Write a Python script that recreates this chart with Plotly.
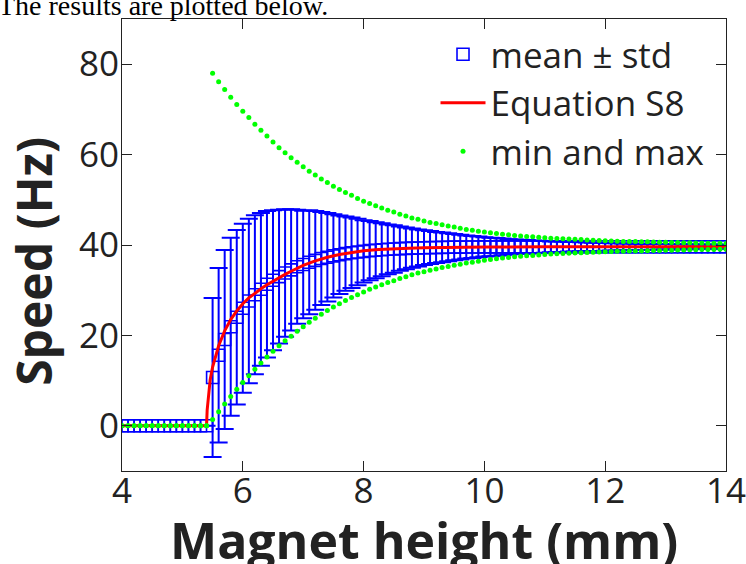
import plotly.graph_objects as go

# Magnet height (mm)
height = [4.0, 4.1, 4.2, 4.3, 4.4, 4.5, 4.6, 4.7, 4.8, 4.9,
          5.0, 5.1, 5.2, 5.3, 5.4, 5.5, 5.6, 5.7, 5.8, 5.9,
          6.0, 6.1, 6.2, 6.3, 6.4, 6.5, 6.6, 6.7, 6.8, 6.9,
          7.0, 7.1, 7.2, 7.3, 7.4, 7.5, 7.6, 7.7, 7.8, 7.9,
          8.0, 8.1, 8.2, 8.3, 8.4, 8.5, 8.6, 8.7, 8.8, 8.9,
          9.0, 9.1, 9.2, 9.3, 9.4, 9.5, 9.6, 9.7, 9.8, 9.9,
          10.0, 10.1, 10.2, 10.3, 10.4, 10.5, 10.6, 10.7, 10.8, 10.9,
          11.0, 11.1, 11.2, 11.3, 11.4, 11.5, 11.6, 11.7, 11.8, 11.9,
          12.0, 12.1, 12.2, 12.3, 12.4, 12.5, 12.6, 12.7, 12.8, 12.9,
          13.0, 13.1, 13.2, 13.3, 13.4, 13.5, 13.6, 13.7, 13.8, 13.9,
          14.0]

speed_mean = [0, 0, 0, 0, 0, 0, 0, 0, 0, 0,
              0, 0, 0, 0, 0, 10.7, 15.6, 19.1, 21.9, 24.0,
              26.0, 27.6, 29.0, 30.2, 31.3, 32.2, 33.0, 33.8, 34.5, 35.2,
              35.7, 36.2, 36.6, 37.0, 37.3, 37.6, 37.85, 38.1, 38.3, 38.45,
              38.6, 38.75, 38.85, 38.95, 39.05, 39.1, 39.2, 39.25, 39.3, 39.35,
              39.4, 39.42, 39.45, 39.47, 39.5, 39.52, 39.54, 39.55, 39.56, 39.57,
              39.58, 39.58, 39.58, 39.58, 39.59, 39.59, 39.59, 39.59, 39.6, 39.6,
              39.6, 39.6, 39.6, 39.6, 39.6, 39.6, 39.6, 39.6, 39.6, 39.6,
              39.6, 39.6, 39.6, 39.6, 39.6, 39.6, 39.6, 39.6, 39.6, 39.6,
              39.6, 39.6, 39.6, 39.6, 39.6, 39.6, 39.6, 39.6, 39.6, 39.6,
              39.6]

speed_std = [0, 0, 0, 0, 0, 0, 0, 0, 0, 0,
             0, 0, 0, 0, 0, 17.6, 19.3, 19.8, 19.7, 19.3,
             18.7, 18.2, 17.6, 16.9, 16.2, 15.5, 14.8, 14.1, 13.4, 12.6,
             11.9, 11.5, 10.9, 10.3, 9.8, 9.2, 8.7, 8.2, 7.8, 7.35,
             6.9, 6.55, 6.2, 5.85, 5.5, 5.25, 4.9, 4.6, 4.35, 4.1,
             3.85, 3.65, 3.45, 3.3, 3.1, 2.9, 2.75, 2.55, 2.45, 2.3,
             2.15, 2.05, 1.95, 1.85, 1.7, 1.6, 1.55, 1.5, 1.4, 1.35,
             1.3, 1.2, 1.15, 1.15, 1.05, 1.05, 1.0, 0.95, 0.9, 0.9,
             0.85, 0.8, 0.8, 0.75, 0.75, 0.7, 0.7, 0.7, 0.65, 0.6,
             0.6, 0.6, 0.55, 0.55, 0.55, 0.5, 0.5, 0.5, 0.5, 0.45,
             0.45]

speed_max = [0, 0, 0, 0, 0, 0, 0, 0, 0, 0,
             0, 0, 0, 0, 0, 78.0, 76.1, 74.4, 72.7, 71.1,
             69.6, 68.2, 66.7, 65.4, 64.1, 62.8, 61.5, 60.4, 59.3, 58.3,
             57.3, 56.3, 55.5, 54.6, 53.8, 53.0, 52.3, 51.6, 51.0, 50.3,
             49.7, 49.2, 48.7, 48.2, 47.7, 47.3, 46.8, 46.4, 46.0, 45.7,
             45.3, 45.0, 44.75, 44.5, 44.2, 44.0, 43.7, 43.45, 43.25, 43.05,
             42.85, 42.7, 42.55, 42.4, 42.25, 42.1, 42.0, 41.9, 41.8, 41.7,
             41.6, 41.5, 41.45, 41.4, 41.3, 41.25, 41.2, 41.1, 41.05, 41.0,
             40.95, 40.9, 40.85, 40.8, 40.8, 40.75, 40.7, 40.7, 40.65, 40.6,
             40.6, 40.55, 40.55, 40.5, 40.5, 40.45, 40.45, 40.4, 40.4, 40.4,
             40.35]

speed_min = [0, 0, 0, 0, 0, 0, 0, 0, 0, 0,
             0, 0, 0, 0, 0, 1.4, 3.1, 4.8, 6.5, 8.1,
             9.6, 11.1, 12.5, 13.9, 15.2, 16.5, 17.7, 18.8, 19.8, 20.9,
             21.9, 22.9, 23.8, 24.7, 25.5, 26.3, 27.0, 27.7, 28.4, 29.0,
             29.6, 30.2, 30.7, 31.2, 31.7, 32.1, 32.6, 33.0, 33.4, 33.8,
             34.1, 34.4, 34.7, 35.0, 35.25, 35.5, 35.75, 36.0, 36.2, 36.4,
             36.6, 36.8, 36.95, 37.1, 37.25, 37.4, 37.5, 37.6, 37.7, 37.8,
             37.9, 38.0, 38.05, 38.1, 38.2, 38.25, 38.3, 38.35, 38.4, 38.45,
             38.5, 38.55, 38.6, 38.6, 38.65, 38.7, 38.7, 38.75, 38.8, 38.8,
             38.85, 38.85, 38.9, 38.9, 38.95, 38.95, 39.0, 39.0, 39.0, 39.05,
             39.05]

# Equation S8 curve
eq_height = [4.0, 5.0, 5.4, 5.41, 5.42, 5.44, 5.46, 5.5, 5.55, 5.6, 5.7, 5.8, 5.9,
             6.0, 6.1, 6.2, 6.3, 6.4, 6.5, 6.6, 6.7, 6.8, 6.9, 7.0, 7.2, 7.4,
             7.6, 7.8, 8.0, 8.25, 8.5, 8.75, 9.0, 9.5, 10.0, 11.0, 12.0, 13.0, 14.0]
eq_speed = [0, 0, 0, 3.5, 5.2, 8.0, 10.2, 13.0, 15.6, 17.7, 21.0, 23.5, 25.4,
            27.0, 28.3, 29.4, 30.3, 31.2, 32.0, 32.7, 33.5, 34.2, 34.9, 35.5, 36.5, 37.3,
            37.9, 38.4, 38.75, 39.0, 39.2, 39.3, 39.4, 39.5, 39.55, 39.6, 39.6, 39.6, 39.6]

x_ticks = [4, 6, 8, 10, 12, 14]
y_ticks = [0, 20, 40, 60, 80]

FONT = "Open Sans"
TXT = "#222"
BLUE = "rgb(0,0,255)"
RED = "rgb(255,0,0)"
GREEN = "rgb(0,255,0)"

fig = go.Figure()

fig.add_trace(go.Scatter(
    x=height, y=speed_mean, mode="markers", name="mean \u00b1 std",
    marker=dict(symbol="square-open", size=12, color=BLUE, line=dict(width=1.6, color=BLUE)),
    error_y=dict(type="data", array=speed_std, visible=True, color=BLUE, thickness=2, width=9),
))

fig.add_trace(go.Scatter(
    x=eq_height, y=eq_speed, mode="lines", name="Equation S8",
    line=dict(color=RED, width=3),
))

fig.add_trace(go.Scatter(
    x=height + height, y=speed_min + speed_max, mode="markers", name="min and max",
    marker=dict(symbol="circle", size=5, color=GREEN),
))

axis_common = dict(
    showline=True, linecolor=TXT, linewidth=1, mirror="ticks",
    ticks="inside", ticklen=10, tickwidth=1, tickcolor=TXT,
    showgrid=False, zeroline=False, ticklabeloverflow="allow",
    tickfont=dict(family=FONT, size=35, color=TXT),
)

fig.update_xaxes(range=[4, 14], tickvals=x_ticks, ticktext=[str(v) for v in x_ticks],
                 ticklabelstandoff=-11, **axis_common)
fig.update_yaxes(range=[-10, 90], tickvals=y_ticks, ticktext=[str(v) for v in y_ticks],
                 ticklabelstandoff=-5, **axis_common)

fig.update_layout(
    width=746, height=564,
    margin=dict(l=122, r=19.5, t=19, b=92.5, autoexpand=False),
    paper_bgcolor="white", plot_bgcolor="white",
    showlegend=True,
    legend=dict(x=0.9727, xanchor="right", y=0.9867, yanchor="top",
                bgcolor="rgba(0,0,0,0)", borderwidth=0,
                font=dict(family=FONT, size=35, color=TXT),
                itemwidth=45),
    annotations=[
        dict(text="The results are plotted below.", xref="paper", yref="paper",
             x=-0.2084, y=1.0298, xanchor="left", yanchor="middle", showarrow=False,
             font=dict(family="Liberation Serif", size=28, color="black")),
        dict(text="<b>Magnet height (mm)</b>", xref="paper", yref="paper",
             x=0.5, y=-0.1536, xanchor="center", yanchor="middle", showarrow=False,
             font=dict(family=FONT, size=50, color=TXT)),
        dict(text="<b>Speed (Hz)</b>", xref="paper", yref="paper", textangle=-90,
             x=-0.1455, y=0.463, xanchor="center", yanchor="middle", showarrow=False,
             font=dict(family=FONT, size=48, color=TXT)),
    ],
)

fig.write_html("out.html", config={"displayModeBar": False},
               post_script="document.body.style.margin='0';document.body.style.overflow='hidden';")
